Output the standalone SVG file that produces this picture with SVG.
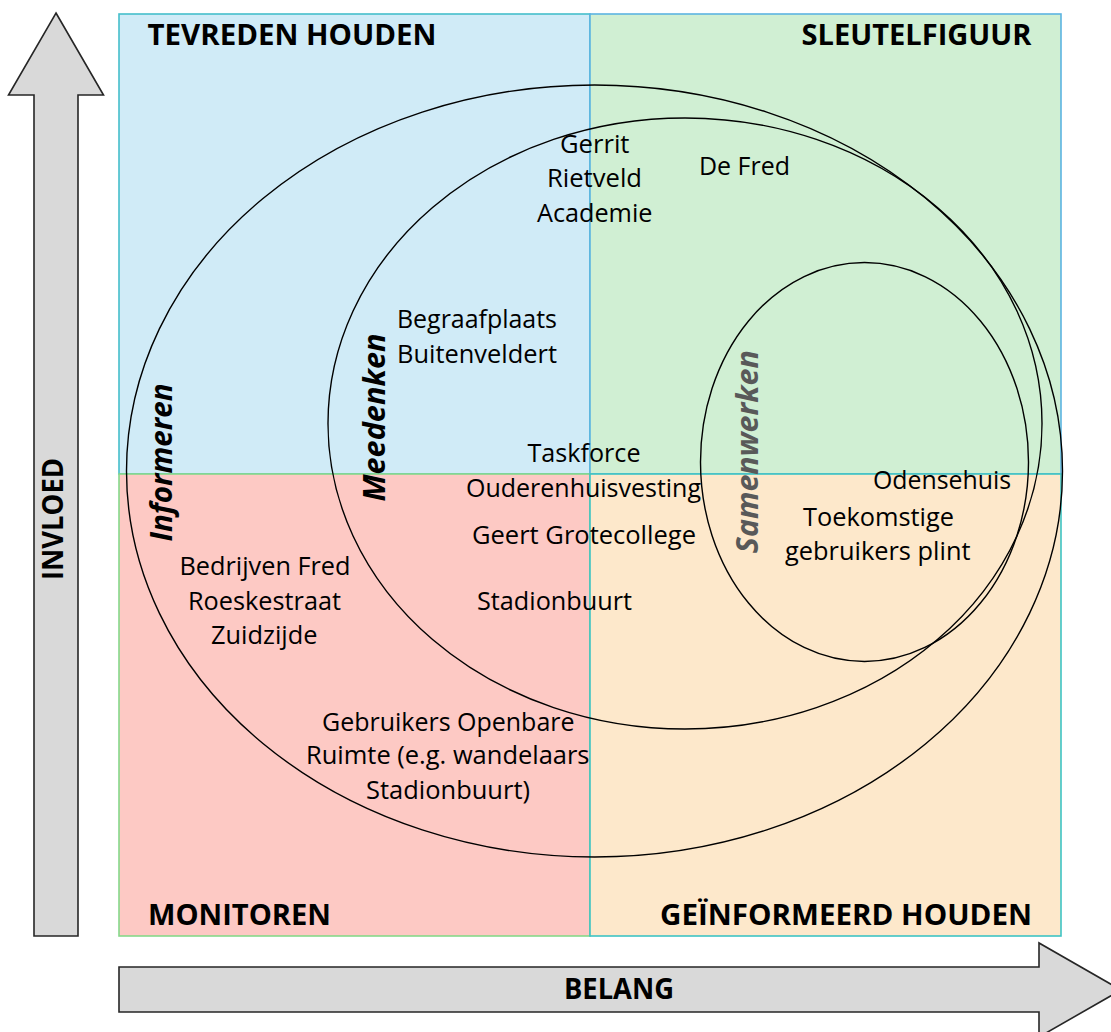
<svg xmlns="http://www.w3.org/2000/svg" width="1111" height="1032" viewBox="0 0 1111 1032">
<style>
text{font-family:"Open Sans","Noto Sans","Liberation Sans",sans-serif;fill:#000}
.h{font-weight:700;font-size:28px}
.b{font-size:25px}
.r{font-weight:700;font-style:italic;font-size:30px}
.ell{fill:none;stroke:#000;stroke-width:1.4}
.arrow{fill:#d9d9d9;stroke:#262626;stroke-width:1.6;stroke-linejoin:miter}
</style>
<rect width="1111" height="1032" fill="#fff"/>
<g id="axes">
<path class="arrow" d="M56,13 L103.5,95 L78,95 L78,936 L34,936 L34,95 L8.5,95 Z"/>
<text class="h" transform="translate(63,519) rotate(-90)" x="-61" y="0" textLength="122" lengthAdjust="spacingAndGlyphs" font-size="30">INVLOED</text>
<path class="arrow" d="M119,967 L1039,967 L1039,943 L1121,990 L1039,1037 L1039,1012 L119,1012 Z"/>
<text class="h" x="564" y="999" textLength="110" lengthAdjust="spacingAndGlyphs">BELANG</text>
</g>
<g id="q-tevreden">
<rect x="119" y="14" width="471" height="460" fill="#d0ebf7" stroke="#45bfcb" stroke-width="1.6"/>
<text class="h" x="147.5" y="45" textLength="289" lengthAdjust="spacingAndGlyphs">TEVREDEN HOUDEN</text>
</g>
<g id="q-sleutelfiguur">
<rect x="590" y="14" width="471" height="460" fill="#d0efd3" stroke="#5cb4e2" stroke-width="1.6"/>
<text class="h" x="801.5" y="45" textLength="230" lengthAdjust="spacingAndGlyphs">SLEUTELFIGUUR</text>
</g>
<g id="q-monitoren">
<rect x="119" y="474" width="471" height="462" fill="#fdc9c4" stroke="#86d98a" stroke-width="1.6"/>
<text class="h" x="148" y="925" textLength="183" lengthAdjust="spacingAndGlyphs">MONITOREN</text>
</g>
<g id="q-geinformeerd">
<rect x="590" y="474" width="471" height="462" fill="#fde8cb" stroke="#3ec3c3" stroke-width="1.6"/>
<text class="h" x="660" y="925" textLength="372" lengthAdjust="spacingAndGlyphs">GEÏNFORMEERD HOUDEN</text>
</g>
<g id="informeren">
<ellipse class="ell" cx="594.5" cy="471" rx="468" ry="386"/>
<text class="r" transform="translate(171.5,462.5) rotate(-90)" x="-79" y="0" textLength="158" lengthAdjust="spacingAndGlyphs">Informeren</text>
</g>
<g id="meedenken">
<ellipse class="ell" cx="685" cy="423.5" rx="357" ry="305.5"/>
<text class="r" transform="translate(385,417.5) rotate(-90)" x="-84" y="0" textLength="168" lengthAdjust="spacingAndGlyphs">Meedenken</text>
</g>
<g id="samenwerken">
<ellipse class="ell" cx="864.5" cy="462" rx="164" ry="199.5"/>
<text class="r" transform="translate(758,451.7) rotate(-90)" x="-101.5" y="0" textLength="203" lengthAdjust="spacingAndGlyphs" style="fill:#595959">Samenwerken</text>
</g>
<g id="gerrit-rietveld">
<text class="b" x="560" y="152.5" textLength="69.5" lengthAdjust="spacingAndGlyphs">Gerrit</text>
<text class="b" x="547" y="186.7" textLength="95" lengthAdjust="spacingAndGlyphs">Rietveld</text>
<text class="b" x="537" y="221.7" textLength="115.5" lengthAdjust="spacingAndGlyphs">Academie</text>
</g>
<g id="de-fred">
<text class="b" x="699" y="175" textLength="91" lengthAdjust="spacingAndGlyphs">De Fred</text>
</g>
<g id="begraafplaats">
<text class="b" x="397" y="327.7" textLength="160" lengthAdjust="spacingAndGlyphs">Begraafplaats</text>
<text class="b" x="397" y="362.7" textLength="160" lengthAdjust="spacingAndGlyphs">Buitenveldert</text>
</g>
<g id="taskforce">
<text class="b" x="527.5" y="461.7" textLength="113" lengthAdjust="spacingAndGlyphs">Taskforce</text>
<text class="b" x="466" y="496.7" textLength="235" lengthAdjust="spacingAndGlyphs">Ouderenhuisvesting</text>
</g>
<g id="geert-groote">
<text class="b" x="472" y="544" textLength="224" lengthAdjust="spacingAndGlyphs">Geert Grotecollege</text>
</g>
<g id="stadionbuurt">
<text class="b" x="477" y="610" textLength="155" lengthAdjust="spacingAndGlyphs">Stadionbuurt</text>
</g>
<g id="bedrijven-fred">
<text class="b" x="179.5" y="575" textLength="171" lengthAdjust="spacingAndGlyphs">Bedrijven Fred</text>
<text class="b" x="188" y="610" textLength="153" lengthAdjust="spacingAndGlyphs">Roeskestraat</text>
<text class="b" x="211" y="644" textLength="106.5" lengthAdjust="spacingAndGlyphs">Zuidzijde</text>
</g>
<g id="gebruikers-openbare-ruimte">
<text class="b" x="322" y="730.7" textLength="252.5" lengthAdjust="spacingAndGlyphs">Gebruikers Openbare</text>
<text class="b" x="306" y="764" textLength="283.5" lengthAdjust="spacingAndGlyphs">Ruimte (e.g. wandelaars</text>
<text class="b" x="366" y="799" textLength="164" lengthAdjust="spacingAndGlyphs">Stadionbuurt)</text>
</g>
<g id="odensehuis">
<text class="b" x="873" y="489.3" textLength="138" lengthAdjust="spacingAndGlyphs">Odensehuis</text>
</g>
<g id="toekomstige-gebruikers">
<text class="b" x="803" y="526" textLength="151" lengthAdjust="spacingAndGlyphs">Toekomstige</text>
<text class="b" x="785" y="560" textLength="185.5" lengthAdjust="spacingAndGlyphs">gebruikers plint</text>
</g>
</svg>
